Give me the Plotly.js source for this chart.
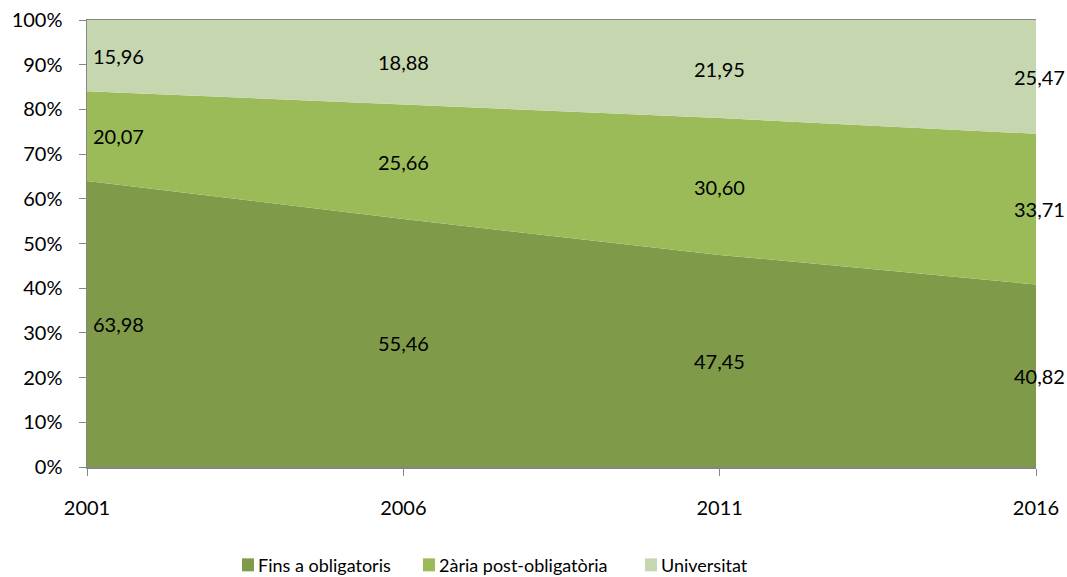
<!DOCTYPE html>
<html>
<head>
<meta charset="utf-8">
<script src="https://cdn.plot.ly/plotly-3.0.1.min.js"></script>
<style>html,body{margin:0;padding:0;background:#fff;}#chart{width:1067px;height:577px;}</style>
</head>
<body>
<div id="chart"></div>
<script>
const years = [2001, 2006, 2011, 2016];
const seriesNames = ["Fins a obligatoris", "2ària post-obligatòria", "Universitat"];
const finsObligatoris = [63.98, 55.46, 47.45, 40.82];
const postObligatoria = [20.07, 25.66, 30.60, 33.71];
const universitat = [15.96, 18.88, 21.95, 25.47];
const yTickVals = [0,10,20,30,40,50,60,70,80,90,100];
const yTickText = ["0%","10%","20%","30%","40%","50%","60%","70%","80%","90%","100%"];

const colors = ["#7F9B4A", "#9BBB59", "#C6D6AE"];
const series = [finsObligatoris, postObligatoria, universitat];
const font = "Lato, 'Open Sans', sans-serif";

const traces = series.map((vals, i) => ({
  x: years, y: vals, name: seriesNames[i], type: 'scatter', mode: 'none',
  stackgroup: 'one', fillcolor: colors[i], line: {width: 0}, hoverinfo: 'skip',
  showlegend: false
}));

const fmt = v => v.toFixed(2).replace('.', ',');
const annotations = [];
years.forEach((yr, j) => {
  let base = 0;
  series.forEach((vals) => {
    const v = vals[j];
    let anchor = 'center', shift = 0;
    if (j === 0) { anchor = 'left'; shift = 4; }
    if (j === years.length - 1) { shift = 3; }
    annotations.push({
      x: yr, y: base + v / 2, xref: 'x', yref: 'y', text: fmt(v),
      showarrow: false, xanchor: anchor, yanchor: 'middle', xshift: shift,
      font: {family: font, size: 20, color: '#000'}
    });
    base += v;
  });
});

// custom legend (square markers)
const legendX = [0.1633, 0.354, 0.588];
const legendY = -0.22;
const shapes = [];
seriesNames.forEach((n, i) => {
  shapes.push({
    type: 'rect', xref: 'paper', yref: 'paper', xsizemode: 'pixel', ysizemode: 'pixel',
    xanchor: legendX[i], yanchor: legendY, x0: 0, x1: 12, y0: -6, y1: 7,
    fillcolor: colors[i], line: {width: 0}
  });
  annotations.push({
    x: legendX[i], y: legendY, xref: 'paper', yref: 'paper', text: n,
    showarrow: false, xanchor: 'left', yanchor: 'middle', xshift: 14,
    font: {family: font, size: 18, color: '#000'}
  });
});

const layout = {
  width: 1067, height: 577,
  margin: {l: 87, r: 31, t: 20, b: 110},
  paper_bgcolor: '#fff', plot_bgcolor: '#fff',
  font: {family: font, size: 20, color: '#000'},
  xaxis: {
    range: [2001, 2016], tickvals: years, ticktext: years.map(String),
    showline: true, linecolor: '#868686', linewidth: 1.5, mirror: true,
    ticks: 'outside', ticklen: 7, tickcolor: '#868686', showgrid: false, zeroline: false,
    tickfont: {family: font, size: 20}, ticklabelstandoff: 15, automargin: false, fixedrange: true
  },
  yaxis: {
    range: [0, 100], tickvals: yTickVals, ticktext: yTickText,
    showline: true, linecolor: '#868686', linewidth: 1.5,
    ticks: 'outside', ticklen: 7, tickcolor: '#868686', showgrid: false, zeroline: false,
    tickfont: {family: font, size: 20}, ticklabelstandoff: 12, automargin: false, fixedrange: true
  },
  annotations: annotations,
  shapes: shapes,
  showlegend: false
};

Plotly.newPlot('chart', traces, layout, {displayModeBar: false, staticPlot: true});
</script>
</body>
</html>
